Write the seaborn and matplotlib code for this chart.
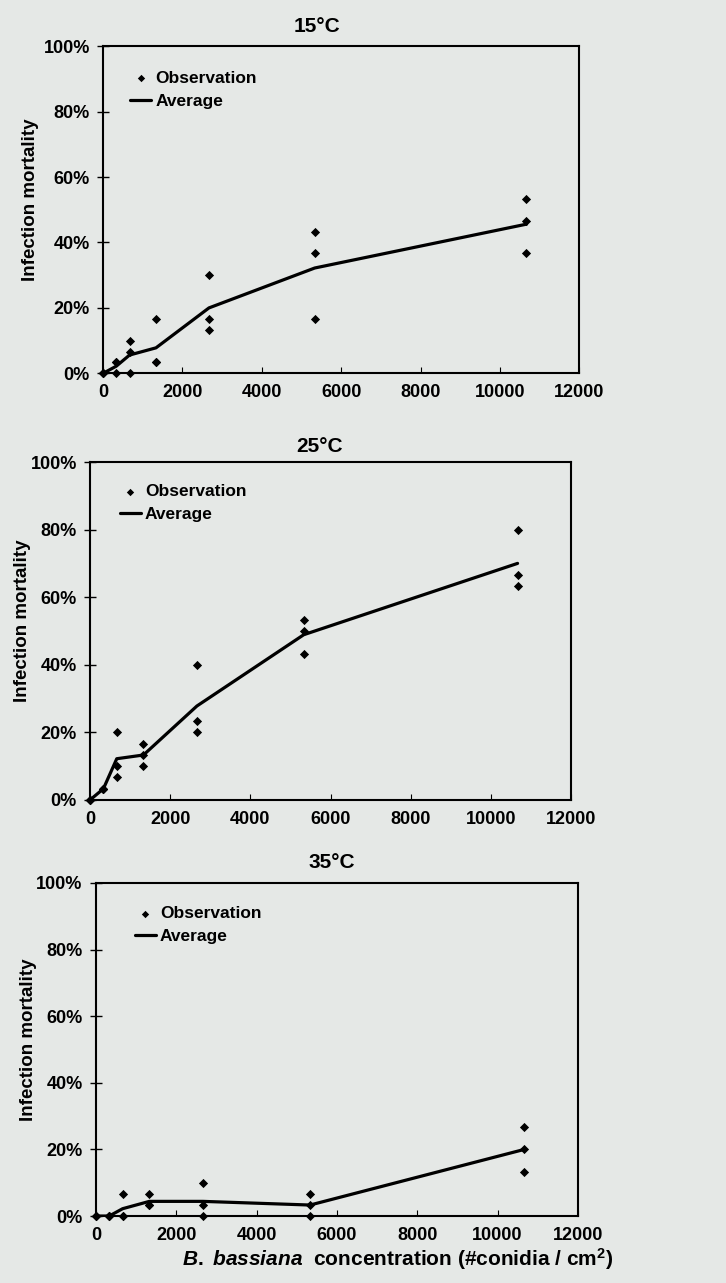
import numpy as np
import pandas as pd
import matplotlib
matplotlib.use("Agg")
import matplotlib.pyplot as plt
import seaborn as sns
from matplotlib.ticker import PercentFormatter, MultipleLocator

# concentrations (#conidia / cm2), three replicates each
conc = [0, 333, 667, 1333, 2667, 5333, 10667]

obs_15 = [[0, 0, 0], [3.33, 3.33, 0], [10, 6.67, 0], [16.67, 3.33, 3.33],
          [30, 16.67, 13.33], [43.33, 36.67, 16.67], [53.33, 46.67, 36.67]]
obs_25 = [[0, 0, 0], [3.33, 3.33, 3.33], [20, 10, 6.67], [16.67, 13.33, 10],
          [40, 23.33, 20], [53.33, 50, 43.33], [80, 66.67, 63.33]]
obs_35 = [[0, 0, 0], [0, 0, 0], [6.67, 0, 0], [6.67, 3.33, 3.33],
          [10, 3.33, 0], [6.67, 3.33, 0], [26.67, 20, 13.33]]

avg_15 = [0, 2.2, 5.6, 7.8, 20.0, 32.2, 45.6]
avg_25 = [0, 3.3, 12.2, 13.3, 27.8, 48.9, 70.0]
avg_35 = [0, 0, 2.2, 4.4, 4.4, 3.3, 20.0]

titles = ["15°C", "25°C", "35°C"]

sns.set_theme(style="ticks", rc={"text.color": "black",
                                 "axes.labelcolor": "black",
                                 "xtick.color": "black",
                                 "ytick.color": "black"})
plt.rcParams["font.family"] = ["Liberation Sans", "DejaVu Sans"]
plt.rcParams["font.weight"] = "bold"
plt.rcParams["mathtext.fontset"] = "custom"
plt.rcParams["mathtext.rm"] = "Liberation Sans:bold"
plt.rcParams["mathtext.it"] = "Liberation Sans:italic:bold"
plt.rcParams["mathtext.bf"] = "Liberation Sans:bold"

bg = "#e5e8e6"
fig = plt.figure(figsize=(7.26, 12.83), dpi=100, facecolor=bg)

# axes boxes in figure fractions [left, bottom, width, height]
boxes = [[0.142, 0.709, 0.656, 0.255],
         [0.124, 0.3765, 0.6625, 0.2634],
         [0.132, 0.0522, 0.664, 0.2596]]
title_x = [0.45, 0.478, 0.49]
title_pad = [10, 7, 11]
ylab_x = [-0.134, -0.123, -0.122]
leg_anchor = [(0.057, 0.925), (0.062, 0.935), (0.081, 0.93)]

panels = zip([obs_15, obs_25, obs_35], [avg_15, avg_25, avg_35], titles)
for i, (obs, avg, title) in enumerate(panels):
    ax = fig.add_axes(boxes[i])
    ax.set_facecolor(bg)

    df = pd.DataFrame({
        "conc": np.repeat(conc, 3),
        "mort": np.ravel(obs),
    })
    sns.scatterplot(data=df, x="conc", y="mort", ax=ax, marker="D", s=22,
                    color="black", edgecolor="black", linewidth=0,
                    label="Observation", zorder=3, clip_on=False)
    sns.lineplot(x=conc, y=avg, ax=ax, color="black", linewidth=2.3,
                 label="Average", zorder=4)

    ax.set_xlim(0, 12000)
    ax.set_ylim(0, 100)
    ax.xaxis.set_major_locator(MultipleLocator(2000))
    ax.yaxis.set_major_locator(MultipleLocator(20))
    ax.yaxis.set_major_formatter(PercentFormatter(100, decimals=0))
    ax.tick_params(axis="x", direction="in", length=4, width=0.8,
                   labelsize=13, pad=8)
    ax.tick_params(axis="y", direction="inout", length=9, width=1,
                   labelsize=13, pad=5)
    for lab in ax.get_xticklabels() + ax.get_yticklabels():
        lab.set_fontweight("bold")
    for sp in ax.spines.values():
        sp.set_visible(True)
        sp.set_color("black")
        sp.set_linewidth(1.5)

    ax.set_title(title, x=title_x[i], pad=title_pad[i], fontsize=15,
                 fontweight="bold")
    ax.set_ylabel("Infection mortality", fontsize=13.5, fontweight="bold")
    ax.yaxis.set_label_coords(ylab_x[i], 0.53)
    ax.set_xlabel("")

    ax.legend(loc="upper left", bbox_to_anchor=leg_anchor[i], frameon=False,
              handlelength=1.2, handletextpad=0.25, labelspacing=0.45,
              borderpad=0, borderaxespad=0, markerscale=0.8,
              prop={"weight": "bold", "size": 12.5})

ax.set_xlabel(r"$\mathit{B.}$ $\mathit{bassiana}$  concentration (#conidia / cm$^{2}$)",
              fontsize=15, fontweight="bold")
ax.xaxis.set_label_coords(0.627, -0.09)

fig.savefig("out.png", dpi=100, facecolor=bg)
